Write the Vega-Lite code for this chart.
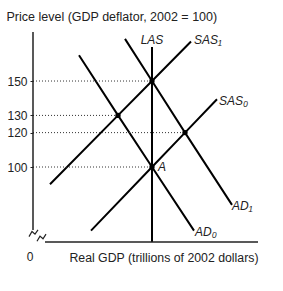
{
  "$schema": "https://vega.github.io/schema/vega-lite/v6.json",
  "width": 225,
  "height": 210,
  "autosize": "none",
  "padding": {"left": 33, "top": 32, "right": 25, "bottom": 49},
  "background": "white",
  "config": {
    "view": {"stroke": null},
    "font": "Liberation Sans",
    "axis": {"labelFont": "Liberation Sans", "titleFont": "Liberation Sans", "grid": false}
  },
  "datasets": {
    "curves": [
      {"curve": "SAS1", "gdp": 17, "price": 90},
      {"curve": "SAS1", "gdp": 85, "price": 130},
      {"curve": "SAS1", "gdp": 119, "price": 150},
      {"curve": "SAS1", "gdp": 158, "price": 173},
      {"curve": "SAS0", "gdp": 58, "price": 63},
      {"curve": "SAS0", "gdp": 119, "price": 100},
      {"curve": "SAS0", "gdp": 152, "price": 120},
      {"curve": "SAS0", "gdp": 184, "price": 139.4},
      {"curve": "AD1", "gdp": 92, "price": 174.5},
      {"curve": "AD1", "gdp": 119, "price": 150},
      {"curve": "AD1", "gdp": 152, "price": 120},
      {"curve": "AD1", "gdp": 199, "price": 78},
      {"curve": "AD0", "gdp": 46, "price": 165},
      {"curve": "AD0", "gdp": 85, "price": 130},
      {"curve": "AD0", "gdp": 119, "price": 100},
      {"curve": "AD0", "gdp": 161, "price": 63},
      {"curve": "LAS", "gdp": 119, "price": 56.4},
      {"curve": "LAS", "gdp": 119, "price": 169.8}
    ],
    "equilibria": [
      {"gdp": 119, "price": 150},
      {"gdp": 85, "price": 130},
      {"gdp": 152, "price": 120},
      {"gdp": 119, "price": 100}
    ],
    "labels": [
      {"text": "LAS", "gdp": 119, "price": 171.5, "pos": "center"},
      {"text": "SAS₁", "gdp": 161, "price": 171.5, "pos": "left"},
      {"text": "SAS₀", "gdp": 186, "price": 136, "pos": "left"},
      {"text": "AD₁", "gdp": 199, "price": 75, "pos": "left"},
      {"text": "AD₀", "gdp": 162, "price": 59.9, "pos": "left"},
      {"text": "A", "gdp": 125, "price": 97.7, "pos": "left"}
    ],
    "axislines": [
      {"axis": "y", "gdp": 0, "gdp2": 0, "price": 63.4, "price2": 178.5},
      {"axis": "x", "gdp": 12, "gdp2": 225, "price": 56.4, "price2": 56.4}
    ],
    "breakmarks": [
      {"mark": "b1", "gdp": -4, "price": 59.5},
      {"mark": "b1", "gdp": -1, "price": 62.5},
      {"mark": "b1", "gdp": 2, "price": 61},
      {"mark": "b1", "gdp": 5, "price": 63.5},
      {"mark": "b2", "gdp": 4, "price": 56.8},
      {"mark": "b2", "gdp": 7, "price": 59.8},
      {"mark": "b2", "gdp": 10, "price": 58.3},
      {"mark": "b2", "gdp": 13, "price": 61}
    ]
  },
  "layer": [
    {
      "data": {"name": "curves"},
      "mark": {"type": "line", "color": "black", "strokeWidth": 2},
      "encoding": {
        "x": {
          "field": "gdp", "type": "quantitative",
          "scale": {"domain": [0, 225], "nice": false, "zero": false},
          "axis": {
            "values": [0], "domain": false, "ticks": false,
            "labelExpr": "'0'", "labelAlign": "right", "labelDx": -8, "labelPadding": 9,
            "labelFontSize": 12, "labelColor": "#222",
            "title": "Real GDP (trillions of 2002 dollars)",
            "titleFontSize": 12.3, "titleFontWeight": "normal", "titleColor": "#222",
            "titleAlign": "right", "titleBaseline": "alphabetic",
            "titleX": 225, "titleY": 19
          }
        },
        "y": {
          "field": "price", "type": "quantitative",
          "scale": {"domain": [56.4, 178.5], "nice": false, "zero": false},
          "axis": {
            "values": [100, 120, 130, 150], "domain": false,
            "tickSize": 3, "tickColor": "#222", "tickWidth": 1,
            "labelPadding": 3, "labelFontSize": 12, "labelColor": "#222",
            "title": "Price level (GDP deflator, 2002 = 100)",
            "titleAngle": 0, "titleFontSize": 12.5, "titleFontWeight": "normal", "titleColor": "#222",
            "titleAlign": "left", "titleBaseline": "alphabetic",
            "titleX": -27, "titleY": -12
          }
        },
        "detail": {"field": "curve", "type": "nominal"},
        "order": {"field": "price", "type": "quantitative"}
      }
    },
    {
      "data": {"name": "equilibria"},
      "mark": {"type": "rule", "strokeDash": [1, 2], "strokeWidth": 1, "color": "#333"},
      "encoding": {
        "x": {"value": 0},
        "x2": {"field": "gdp", "type": "quantitative"},
        "y": {"field": "price", "type": "quantitative"}
      }
    },
    {
      "data": {"name": "axislines"},
      "mark": {"type": "rule", "color": "#222", "strokeWidth": 1.5},
      "encoding": {
        "x": {"field": "gdp", "type": "quantitative"},
        "x2": {"field": "gdp2"},
        "y": {"field": "price", "type": "quantitative"},
        "y2": {"field": "price2"}
      }
    },
    {
      "data": {"name": "breakmarks"},
      "mark": {"type": "line", "color": "#222", "strokeWidth": 1.2, "clip": false},
      "encoding": {
        "x": {"field": "gdp", "type": "quantitative"},
        "y": {"field": "price", "type": "quantitative"},
        "detail": {"field": "mark", "type": "nominal"},
        "order": {"field": "gdp", "type": "quantitative"}
      }
    },
    {
      "data": {"name": "equilibria"},
      "mark": {"type": "point", "shape": "circle", "filled": true, "size": 28, "color": "black", "opacity": 1},
      "encoding": {
        "x": {"field": "gdp", "type": "quantitative"},
        "y": {"field": "price", "type": "quantitative"}
      }
    },
    {
      "data": {"name": "labels"},
      "transform": [{"filter": "datum.pos === 'left'"}],
      "mark": {"type": "text", "fontStyle": "italic", "fontSize": 12, "color": "#222", "baseline": "alphabetic", "align": "left", "clip": false},
      "encoding": {
        "x": {"field": "gdp", "type": "quantitative"},
        "y": {"field": "price", "type": "quantitative"},
        "text": {"field": "text", "type": "nominal"}
      }
    },
    {
      "data": {"name": "labels"},
      "transform": [{"filter": "datum.pos === 'center'"}],
      "mark": {"type": "text", "fontStyle": "italic", "fontSize": 12, "color": "#222", "baseline": "alphabetic", "align": "center", "clip": false},
      "encoding": {
        "x": {"field": "gdp", "type": "quantitative"},
        "y": {"field": "price", "type": "quantitative"},
        "text": {"field": "text", "type": "nominal"}
      }
    }
  ]
}
